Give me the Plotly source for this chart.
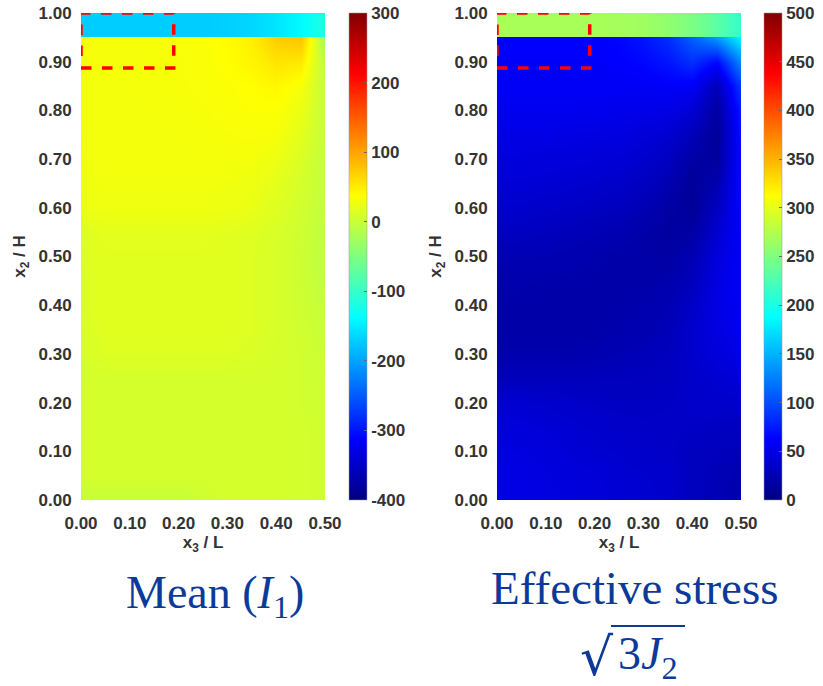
import plotly.graph_objects as go

# ---------------- data ----------------
x_grid = [0.00, 0.05, 0.10, 0.15, 0.20, 0.25, 0.30, 0.35, 0.40, 0.45, 0.50]
y_body = [0.00, 0.05, 0.10, 0.15, 0.20, 0.25, 0.30, 0.35, 0.40, 0.45,
          0.50, 0.55, 0.60, 0.65, 0.70, 0.75, 0.80, 0.85, 0.90, 0.95]
y_band = [0.9625, 0.9875]

mean_body = [
    [-2, -2, -2, -2, -2, 4, 8, 8, 8, 7, 5],
    [8, 8, 8, 8, 8, 8, 8, 8, 8, 7, 5],
    [8, 8, 8, 8, 8, 8, 8, 8, 8, 7, 5],
    [8, 8, 8, 8, 8, 8, 8, 8, 8, 7, 5],
    [8, 8, 8, 8, 8, 8, 8, 8, 8, 6, 4],
    [8, 8, 8, 8, 8, 8, 8, 8, 8, 6, 3],
    [10, 14, 14, 14, 14, 14, 14, 12, 9, 6, 2],
    [12, 16, 16, 16, 16, 16, 16, 14, 10, 5, 0],
    [13, 17, 17, 17, 17, 17, 16, 14, 10, 4, -3],
    [13, 17, 17, 17, 17, 17, 16, 14, 10, 3, -6],
    [14, 17, 17, 17, 17, 17, 16, 14, 10, 3, -8],
    [15, 18, 18, 18, 18, 18, 17, 15, 11, 4, -6],
    [24, 27, 27, 27, 27, 27, 26, 22, 15, 6, -4],
    [27, 29, 29, 29, 29, 29, 28, 26, 19, 8, -4],
    [28, 30, 30, 30, 30, 30, 30, 30, 25, 12, -4],
    [29, 30, 30, 30, 30, 31, 32, 33, 32, 18, -3],
    [30, 30, 30, 30, 31, 32, 34, 36, 36, 24, -3],
    [30, 30, 30, 31, 32, 33, 35, 38, 42, 32, -5],
    [31, 31, 31, 32, 32, 34, 38, 44, 55, 52, -10],
    [31, 31, 31, 32, 33, 35, 39, 48, 72, 80, -30],
]
mean_band = [
    [-172, -172, -172, -172, -172, -172, -170, -165, -155, -140, -115],
    [-172, -172, -172, -172, -172, -172, -170, -165, -155, -140, -115],
]

eff_body = [
    [50, 50, 48, 46, 44, 42, 40, 38, 32, 26, 22],
    [50, 49, 47, 45, 43, 41, 39, 37, 32, 27, 24],
    [48, 47, 45, 42, 40, 38, 36, 35, 32, 30, 28],
    [45, 44, 42, 40, 38, 36, 35, 35, 34, 33, 32],
    [40, 40, 38, 36, 34, 33, 33, 34, 36, 37, 38],
    [30, 30, 30, 30, 30, 30, 30, 32, 36, 40, 44],
    [22, 22, 22, 22, 24, 26, 28, 30, 38, 45, 50],
    [20, 20, 20, 20, 20, 22, 24, 28, 38, 48, 55],
    [20, 20, 20, 20, 20, 20, 22, 25, 35, 50, 58],
    [22, 22, 21, 20, 20, 20, 20, 22, 30, 48, 60],
    [26, 26, 25, 24, 22, 20, 20, 18, 25, 45, 60],
    [32, 32, 30, 28, 26, 24, 20, 15, 18, 40, 62],
    [38, 38, 36, 34, 32, 30, 26, 18, 12, 32, 64],
    [42, 42, 41, 40, 38, 36, 32, 25, 12, 24, 66],
    [46, 46, 45, 44, 43, 42, 38, 32, 18, 14, 68],
    [50, 50, 50, 49, 48, 47, 44, 40, 28, 12, 70],
    [55, 55, 55, 55, 54, 53, 52, 50, 42, 16, 76],
    [58, 58, 58, 58, 58, 58, 58, 60, 58, 28, 90],
    [60, 60, 60, 60, 60, 62, 65, 72, 85, 65, 130],
    [62, 62, 62, 62, 62, 65, 72, 85, 110, 140, 185],
]
eff_band = [
    [270, 270, 270, 270, 270, 268, 265, 258, 248, 232, 212],
    [270, 270, 270, 270, 270, 268, 265, 258, 248, 232, 212],
]

mean_range = [-400, 300]
eff_range = [0, 500]
mean_ticks = [-400, -300, -200, -100, 0, 100, 200, 300]
eff_ticks = [0, 50, 100, 150, 200, 250, 300, 350, 400, 450, 500]
x_ticks = [0.0, 0.1, 0.2, 0.3, 0.4, 0.5]
y_ticks = [0.0, 0.1, 0.2, 0.3, 0.4, 0.5, 0.6, 0.7, 0.8, 0.9, 1.0]
box_x = [0.0, 0.19]
box_y = [0.887, 1.0]

# ---------------- styling ----------------
W, H = 823, 686


def px(x):
    return x / W


def py(y):
    return 1 - y / H


jet = [[0.0, "rgb(0,0,128)"], [0.125, "rgb(0,0,255)"], [0.375, "rgb(0,255,255)"],
       [0.625, "rgb(255,255,0)"], [0.875, "rgb(255,0,0)"], [1.0, "rgb(128,0,0)"]]
tick_font = dict(family="Liberation Sans, Arial", size=17, color="#333333", weight="bold")
title_color = "#0b3a99"

plot_top, plot_bot = 13, 500
dom_y = [py(plot_bot), py(plot_top)]
dom_x1 = [px(81), px(325)]
dom_x2 = [px(497), px(741)]


def cbar(xpix, ticks):
    return dict(x=px(xpix), xanchor="left", y=dom_y[1], yanchor="top",
                len=plot_bot - plot_top, lenmode="pixels", thickness=18,
                thicknessmode="pixels", tickvals=ticks, ticktext=[str(t) for t in ticks],
                ticks="inside", ticklen=3, tickcolor="#666", tickfont=tick_font,
                ticklabeloverflow="allow",
                outlinewidth=0.5, outlinecolor="#999", xpad=0, ypad=0)


fig = go.Figure()
fig.add_trace(go.Heatmap(x=x_grid, y=y_body, z=mean_body, colorscale=jet,
                         zmin=mean_range[0], zmax=mean_range[1], zsmooth="best",
                         colorbar=cbar(349, mean_ticks), xaxis="x", yaxis="y",
                         hoverinfo="skip"))
fig.add_trace(go.Heatmap(x=x_grid, y=y_band, z=mean_band, colorscale=jet,
                         zmin=mean_range[0], zmax=mean_range[1], zsmooth="best",
                         showscale=False, xaxis="x", yaxis="y", hoverinfo="skip"))
fig.add_trace(go.Heatmap(x=x_grid, y=y_body, z=eff_body, colorscale=jet,
                         zmin=eff_range[0], zmax=eff_range[1], zsmooth="best",
                         colorbar=cbar(764, eff_ticks), xaxis="x2", yaxis="y2",
                         hoverinfo="skip"))
fig.add_trace(go.Heatmap(x=x_grid, y=y_band, z=eff_band, colorscale=jet,
                         zmin=eff_range[0], zmax=eff_range[1], zsmooth="best",
                         showscale=False, xaxis="x2", yaxis="y2", hoverinfo="skip"))

xa = dict(range=[0, 0.5], tickvals=x_ticks, tickformat=".2f", tickfont=tick_font,
          showgrid=False, zeroline=False, showline=False, ticks="outside", ticklen=8,
          tickcolor="rgba(0,0,0,0)", automargin=False, ticklabeloverflow="allow",
          title=dict(text="x<sub>3</sub> / L", font=tick_font, standoff=2))
ya = dict(range=[0, 1], tickvals=y_ticks, tickformat=".2f", tickfont=tick_font,
          showgrid=False, zeroline=False, showline=False, ticks="outside", ticklen=5,
          tickcolor="rgba(0,0,0,0)", automargin=False, ticklabeloverflow="allow",
          title=dict(text="x<sub>2</sub> / H", font=tick_font, standoff=8))

fig.update_layout(
    width=W, height=H, margin=dict(l=0, r=0, t=0, b=0),
    paper_bgcolor="white", plot_bgcolor="white", showlegend=False,
    xaxis=dict(domain=dom_x1, anchor="y", **xa),
    yaxis=dict(domain=dom_y, anchor="x", **ya),
    xaxis2=dict(domain=dom_x2, anchor="y2", **xa),
    yaxis2=dict(domain=dom_y, anchor="x2", **ya),
)

for xr, yr in (("x", "y"), ("x2", "y2")):
    fig.add_shape(type="rect", xref=xr, yref=yr, x0=box_x[0], x1=box_x[1],
                  y0=box_y[0], y1=box_y[1], line=dict(color="red", width=3.5, dash="dash"),
                  layer="above")

serif = dict(family="Liberation Serif, Times New Roman", size=46, color=title_color)
fig.add_annotation(text="Mean (<i>I</i><sub>1</sub>)", x=px(215), y=py(596),
                   xref="paper", yref="paper", showarrow=False, font=serif,
                   xanchor="center", yanchor="middle")
fig.add_annotation(text="Effective stress", x=px(635), y=py(588),
                   xref="paper", yref="paper", showarrow=False,
                   font=dict(family="Liberation Serif, Times New Roman", size=47,
                             color=title_color),
                   xanchor="center", yanchor="middle")
fig.add_annotation(text="√", x=px(597), y=py(657),
                   xref="paper", yref="paper", showarrow=False,
                   font=dict(family="DejaVu Serif", size=52, color=title_color),
                   xanchor="center", yanchor="middle")
fig.add_annotation(text="3<i>J</i><sub>2</sub>", x=px(648), y=py(657),
                   xref="paper", yref="paper", showarrow=False, font=serif,
                   xanchor="center", yanchor="middle")
fig.add_shape(type="line", xref="paper", yref="paper", x0=px(611), x1=px(685),
              y0=py(626), y1=py(626), line=dict(color=title_color, width=2))

fig.write_html("out.html", config={"displayModeBar": False},
               post_script="document.body.style.margin='0px';")
